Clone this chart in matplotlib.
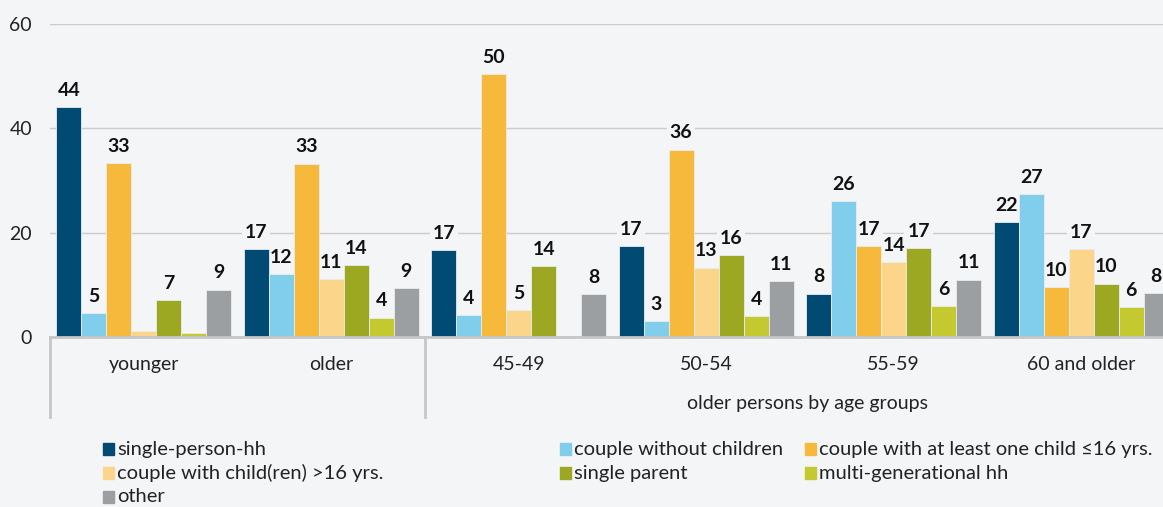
import matplotlib
matplotlib.use("Agg")
import matplotlib.pyplot as plt
import matplotlib.transforms as mtransforms
from matplotlib.patches import Rectangle
import numpy as np

plt.rcParams['font.family'] = ['Lato', 'DejaVu Sans']

# data
groups = ['younger', 'older', '45-49', '50-54', '55-59', '60 and older']
series = ['single-person-hh', 'couple without children',
          'couple with at least one child \u226416 yrs.',
          'couple with child(ren) >16 yrs.', 'single parent',
          'multi-generational hh', 'other']
colors = ['#004a73', '#80cdec', '#f7b93c', '#fbd68a', '#9ca722', '#c3c92f', '#9b9fa2']

single_person = [44.0, 16.8, 16.7, 17.4, 8.3, 22.0]
couple_no_kids = [4.6, 12.1, 4.2, 3.0, 26.0, 27.4]
couple_kid_u16 = [33.3, 33.2, 50.4, 35.9, 17.4, 9.6]
couple_kid_o16 = [1.15, 11.1, 5.2, 13.3, 14.4, 16.8]
single_parent = [7.0, 13.8, 13.6, 15.7, 17.0, 10.2]
multi_gen = [0.77, 3.7, 0.2, 4.0, 5.9, 5.7]
other = [9.1, 9.3, 8.2, 10.7, 11.0, 8.4]

values = [single_person, couple_no_kids, couple_kid_u16, couple_kid_o16,
          single_parent, multi_gen, other]

bg = '#f4f5f7'
fig = plt.figure(figsize=(11.63, 5.07), dpi=100, facecolor=bg)
ax = fig.add_axes([0.043, 0.3353, 0.957, 0.6174])
ax.set_facecolor(bg)

x = np.arange(len(groups))
w = 0.1333
for i, (vals, c) in enumerate(zip(values, colors)):
    pos = x + (i - 3) * w
    ax.bar(pos, vals, width=w, color=c, edgecolor='#e8ecef', linewidth=0.6, zorder=3)
    for p, v in zip(pos, vals):
        if v >= 2:
            # label box hides the gridline but sits under neighbouring bars
            ax.text(p, v + 1.6, f'{v:.0f}', ha='center', va='bottom',
                    fontsize=14, fontweight='bold', color='#111111', zorder=2.5,
                    bbox=dict(boxstyle='square,pad=0.15', fc=bg, ec='none'))

ax.set_xlim(-0.5, 5.437)
ax.set_ylim(0, 60)
ax.set_yticks([0, 20, 40, 60])
ax.tick_params(axis='y', length=0, pad=13, labelsize=14, labelcolor='#222222')
ax.set_xticks([])
ax.grid(axis='y', color='#cccccc', linewidth=1, zorder=0)
for s in ax.spines.values():
    s.set_visible(False)
ax.axhline(0, color='#c4c6c8', linewidth=2, zorder=5, clip_on=False)

# category axis below
trans = mtransforms.blended_transform_factory(ax.transData, ax.transAxes)
for sx in [-0.5, 1.5]:
    ax.plot([sx, sx], [0, -0.256], transform=trans, color='#c4c6c8',
            linewidth=2, clip_on=False)
for xi, g in zip(x, groups):
    ax.text(xi, -0.087, g, transform=trans, ha='center', va='center',
            fontsize=14, color='#222222')
ax.text(3.54, -0.212, 'older persons by age groups', transform=trans,
        ha='center', va='center', fontsize=14, color='#222222')

# legend
col_x = [103, 560, 805]
row_y = [449, 473, 497]
W, H = 1163, 507
for i, (name, c) in enumerate(zip(series, colors)):
    px = col_x[i % 3]
    py = row_y[i // 3]
    fig.add_artist(Rectangle((px / W, (H - py - 6) / H), 11 / W, 12 / H,
                             transform=fig.transFigure, color=c))
    fig.text((px + 14) / W, (H - py) / H, name, ha='left', va='center',
             fontsize=14.5, color='#222222')

fig.savefig('out.png', dpi=100, facecolor=bg)
